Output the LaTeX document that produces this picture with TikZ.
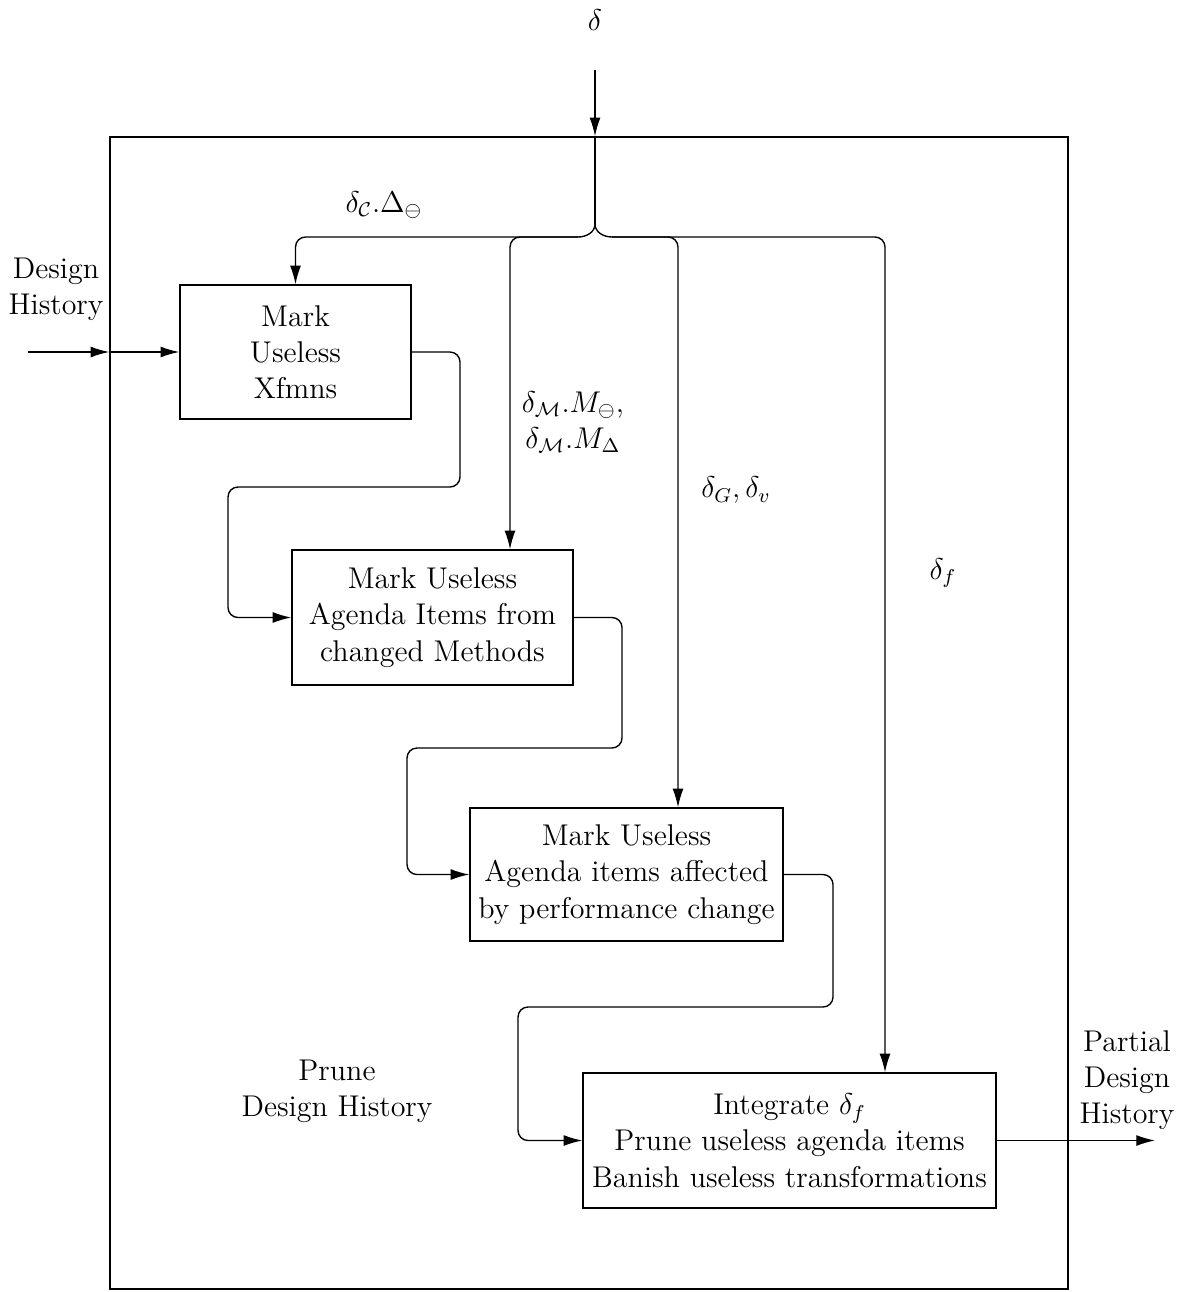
\documentclass[tikz,border=0pt]{standalone}
\usetikzlibrary{arrows.meta,calc}
\begin{document}
\begin{tikzpicture}[x=0.4pt,y=-0.4pt,
  line width=0.55pt,
  font=\fontsize{12}{14.5}\selectfont,
  arr/.style={-{Latex[length=7.5pt,width=4.4pt]}},
  proc/.style={draw, align=center, inner sep=0pt},
  lbl/.style={align=center, inner sep=0pt},
  roundpath/.style={rounded corners=4pt}]
\useasboundingbox (0,0) rectangle (1179,1292);

% enclosing process frame
\node[draw, inner sep=0pt, minimum width=383.2pt, minimum height=460.8pt] (frame) at (589,713) {};

% the four processing steps
\node[proc, minimum width=92.4pt, minimum height=53.6pt] (b1) at (295.5,352)
  {Mark\\Useless\\Xfmns};
\node[proc, minimum width=112.4pt, minimum height=54pt] (b2) at (432.5,617.5)
  {Mark Useless\\Agenda Items from\\changed Methods};
\node[proc, minimum width=125.2pt, minimum height=53.2pt] (b3) at (626.5,874.5)
  {Mark Useless\\Agenda items affected\\by performance change};
\node[proc, minimum width=165.2pt, minimum height=54pt] (b4) at (789.5,1140.5)
  {Integrate $\delta_f$\\Prune useless agenda items\\Banish useless transformations};

% labels
\node[lbl] (dlab) at (595,20) {$\delta$};
\node[lbl] (lc) at (384,205) {$\delta_{\mathcal{C}}.\Delta_{\ominus}$};
\node[lbl] (lm) at (573,422) {$\delta_{\mathcal{M}}.M_{\ominus}$,\\$\delta_{\mathcal{M}}.M_{\Delta}$};
\node[lbl] (lg) at (736,490) {$\delta_G,\delta_v$};
\node[lbl] (lf) at (943,573) {$\delta_f$};
\node[lbl] (lin) at (56,289) {Design\\History};
\node[lbl] (lout) at (1127,1080) {Partial\\Design\\History};
\node[lbl] (lprune) at (337,1091) {Prune\\Design History};

% incoming change and its distribution brace
\coordinate (dtop) at (595,70);
\coordinate (tip) at (595,224);
\coordinate (bl) at (578,237);
\coordinate (br) at (612,237);
\draw[arr] (dtop) -- (dtop |- frame.north);
\draw (dtop |- frame.north) -- (tip);
\draw (tip) to[out=-90,in=0] (bl);
\draw (tip) to[out=-90,in=180] (br);
\draw[arr,roundpath] (bl) -| (b1.north);
\coordinate (c2) at (510,237);
\coordinate (c3) at (678,237);
\coordinate (c4) at (885,237);
\draw[arr,roundpath] (bl) -- (c2) -- (c2 |- b2.north);
\draw[arr,roundpath] (br) -- (c3) -- (c3 |- b3.north);
\draw[arr,roundpath] (br) -- (c4) -- (c4 |- b4.north);

% design history in and out
\coordinate (inL) at (28,352);
\coordinate (outR) at (1155,1141);
\draw[arr] (inL) -- (inL -| frame.west);
\draw[arr] (inL -| frame.west) -- (b1.west);
\draw[arr] (b4.east) -- (outR |- b4.east);

% step-to-step flow
\coordinate (k1) at (460,487);
\coordinate (k2) at (228,487);
\draw[arr,roundpath] (b1.east) -| (k1) -- (k2) |- (b2.west);
\coordinate (k3) at (622,748);
\coordinate (k4) at (407,748);
\draw[arr,roundpath] (b2.east) -| (k3) -- (k4) |- (b3.west);
\coordinate (k5) at (833,1007);
\coordinate (k6) at (518,1007);
\draw[arr,roundpath] (b3.east) -| (k5) -- (k6) |- (b4.west);
\end{tikzpicture}
\end{document}
